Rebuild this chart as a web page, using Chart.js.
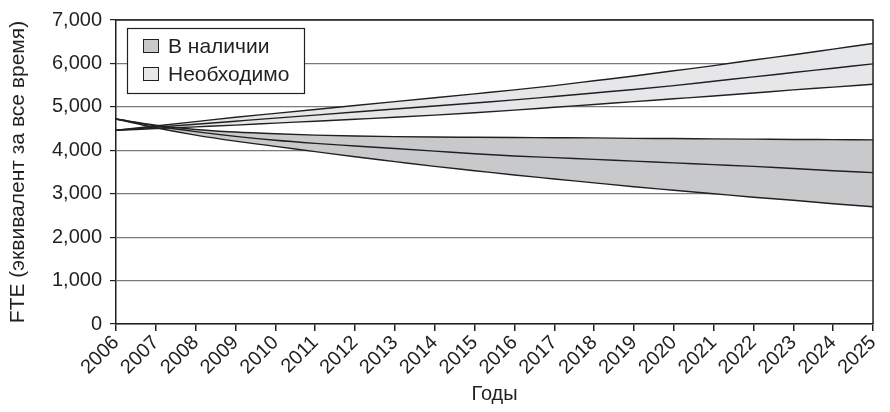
<!DOCTYPE html>
<html>
<head>
<meta charset="utf-8">
<script src="https://cdn.jsdelivr.net/npm/chart.js@4/dist/chart.umd.min.js"></script>
<style>
    html, body { margin: 0; padding: 0; background: #fff; }
    #wrap { position: relative; width: 890px; height: 412px; }
</style>
</head>
<body>
<div id="wrap"><canvas id="mainChart" width="890" height="412"></canvas></div>
<script>
const years = ['2006', '2007', '2008', '2009', '2010', '2011', '2012', '2013', '2014', '2015',
    '2016', '2017', '2018', '2019', '2020', '2021', '2022', '2023', '2024', '2025'];

// Необходимо (needed): upper / middle / lower bounds
const neededHigh = [4460, 4560, 4660, 4760, 4850, 4940, 5030, 5120, 5210, 5300,
    5390, 5490, 5600, 5710, 5830, 5950, 6080, 6200, 6330, 6460];
const neededMid = [4460, 4530, 4600, 4670, 4740, 4810, 4880, 4950, 5020, 5090,
    5160, 5240, 5320, 5400, 5490, 5590, 5690, 5790, 5890, 5990];
const neededLow = [4460, 4500, 4540, 4580, 4625, 4670, 4715, 4760, 4810, 4865,
    4925, 4990, 5055, 5120, 5185, 5250, 5320, 5390, 5455, 5522];

// В наличии (available): upper / middle / lower bounds
const availHigh = [4720, 4580, 4480, 4420, 4380, 4350, 4330, 4315, 4305, 4300,
    4295, 4290, 4285, 4275, 4270, 4262, 4256, 4250, 4245, 4240];
const availMid = [4720, 4560, 4430, 4320, 4230, 4160, 4100, 4040, 3980, 3920,
    3870, 3830, 3790, 3750, 3710, 3670, 3630, 3580, 3530, 3486];
const availLow = [4720, 4520, 4350, 4210, 4090, 3970, 3850, 3740, 3630, 3530,
    3430, 3340, 3250, 3160, 3080, 3000, 2920, 2850, 2770, 2700];

const legendLabels = ['В наличии', 'Необходимо'];
const yTitle = 'FTE (эквивалент за все время)';
const xTitle = 'Годы';

const FONT = "'Liberation Sans', Arial, sans-serif";
const INK = '#231f20';
const NEEDED_FILL = '#e6e7e8';
const AVAIL_FILL = '#c8c9cb';

function band(data, fill, fillColor) {
    return {
        data: data,
        borderColor: INK,
        borderWidth: 1.4,
        pointRadius: 0,
        cubicInterpolationMode: 'monotone',
        fill: fill,
        backgroundColor: fillColor
    };
}

// frame on top / right + legend box inside the plot
const framePlugin = {
    id: 'frame',
    afterDraw(chart) {
        const { ctx, chartArea: a } = chart;
        ctx.save();
        ctx.strokeStyle = INK;
        ctx.lineWidth = 1.5;
        ctx.beginPath();
        ctx.moveTo(a.left, a.top);
        ctx.lineTo(a.right, a.top);
        ctx.lineTo(a.right, a.bottom);
        ctx.stroke();

        // legend
        const lx = 127, ly = 28, lw = 177, lh = 65;
        ctx.fillStyle = '#fff';
        ctx.fillRect(lx, ly, lw, lh);
        ctx.lineWidth = 1.2;
        ctx.strokeRect(lx + 0.5, ly + 0.5, lw, lh);
        const fills = [AVAIL_FILL, NEEDED_FILL];
        ctx.font = '21px ' + FONT;
        ctx.textBaseline = 'middle';
        legendLabels.forEach((txt, i) => {
            const cy = ly + 18 + i * 28;
            ctx.fillStyle = fills[i];
            ctx.fillRect(lx + 16, cy - 7, 16, 14);
            ctx.strokeStyle = INK;
            ctx.lineWidth = 1;
            ctx.strokeRect(lx + 16.5, cy - 6.5, 15, 13);
            ctx.fillStyle = INK;
            ctx.fillText(txt, lx + 41, cy + 1);
        });
        ctx.restore();
    }
};

new Chart(document.getElementById('mainChart'), {
    type: 'line',
    data: {
        labels: years,
        datasets: [
            band(neededHigh, 2, NEEDED_FILL),
            band(neededMid, false),
            band(neededLow, false),
            band(availHigh, 5, AVAIL_FILL),
            band(availMid, false),
            band(availLow, false)
        ]
    },
    options: {
        responsive: false,
        animation: false,
        layout: { padding: { top: 18, right: 15, left: 0, bottom: 0 } },
        plugins: {
            legend: { display: false },
            tooltip: { enabled: false },
            filler: { drawTime: 'beforeDatasetsDraw' }
        },
        scales: {
            x: {
                offset: false,
                grid: { drawOnChartArea: false, color: INK, tickLength: 7, lineWidth: 1.5 },
                border: { color: INK, width: 1.5 },
                ticks: {
                    color: INK, font: { family: FONT, size: 20 },
                    maxRotation: 45, minRotation: 45, autoSkip: false, padding: 0
                },
                title: { display: true, text: xTitle, color: INK, font: { family: FONT, size: 20 }, padding: { top: 0, bottom: 6 } },
                afterFit(scale) { scale.height = 88; }
            },
            y: {
                min: 0, max: 7000,
                grid: { color: '#7a7a7a', lineWidth: 1.2, tickLength: 6, tickColor: INK },
                border: { color: INK, width: 1.5 },
                ticks: {
                    stepSize: 1000, color: INK, font: { family: FONT, size: 20 }, padding: 8,
                    callback: v => v.toLocaleString('en-US')
                },
                title: { display: true, text: yTitle, color: INK, font: { family: FONT, size: 21 }, padding: { top: 6, bottom: 4 } },
                afterFit(scale) { scale.width = 116; }
            }
        }
    },
    plugins: [framePlugin]
});
</script>
</body>
</html>
